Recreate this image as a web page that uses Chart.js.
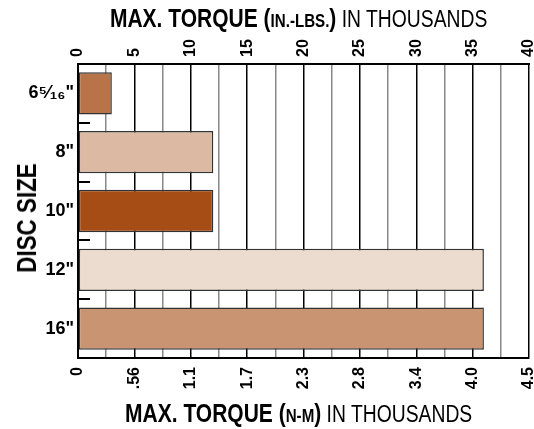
<!DOCTYPE html>
<html>
<head>
<meta charset="utf-8">
<script src="https://cdn.jsdelivr.net/npm/chart.js@4.4.1/dist/chart.umd.min.js"></script>
<style>
    html, body { margin: 0; padding: 0; background: #fff; }
    #wrap { position: relative; width: 534px; height: 429px; }
    #myChart { position: absolute; left: 0; top: 0; }
    .axis-title {
        position: absolute; left: 0; width: 597px; text-align: center;
        font-family: 'Liberation Sans', Arial, sans-serif;
        color: #000; white-space: nowrap; line-height: 1;
    }
    .axis-title .inner { display: inline-block; transform: scaleX(0.84); transform-origin: center; }
    .axis-title b { font-weight: bold; font-size: 25px; }
    .axis-title small { font-weight: bold; font-size: 18px; }
    .axis-title span { font-weight: normal; font-size: 23px; }
    #discTitle {
        position: absolute; left: 27px; top: 218px;
        font-family: 'Liberation Sans', Arial, sans-serif;
        font-weight: bold; font-size: 28px; line-height: 1; white-space: nowrap; color: #000;
        transform: translate(-50%, -50%) rotate(-90deg) scaleX(0.8);
    }
</style>
</head>
<body>
<div id="wrap">
    <canvas id="myChart" width="534" height="429"></canvas>
    <div class="axis-title" style="top:6px;"><div class="inner"><b>MAX. TORQUE (</b><small>IN.-LBS.</small><b>)</b><span> IN THOUSANDS</span></div></div>
    <div class="axis-title" style="top:401px;"><div class="inner"><b>MAX. TORQUE (</b><small>N-M</small><b>)</b><span> IN THOUSANDS</span></div></div>
    <div id="discTitle">DISC SIZE</div>
</div>
<script>
    // 디스크 크기별 최대 토크 (in-lbs, 천 단위)
    const discSizes = ['6⁵⁄₁₆"', '8"', '10"', '12"', '16"'];
    const maxTorque = [3, 12, 12, 36, 36];
    const barColors = ['#b87448', '#dcb9a2', '#a64d16', '#ecdcd0', '#c99472'];

    // 위쪽 눈금(in-lbs)과 아래쪽 눈금(N-m)
    const inLbsTicks = ['0', '5', '10', '15', '20', '25', '30', '35', '40'];
    const nmTicks = ['0', '.56', '1.1', '1.7', '2.3', '2.8', '3.4', '4.0', '4.5'];

    const fontFamily = "'Liberation Sans', Arial, sans-serif";
    const tickSize = 16;

    function tickLabel(list) {
        return function(value) {
            return value % 5 === 0 ? list[value / 5] : '';
        };
    }

    // 왼쪽 축 안쪽의 짧은 눈금
    const innerTicks = {
        id: 'innerTicks',
        afterDatasetsDraw(chart) {
            const y = chart.scales.y;
            const left = chart.chartArea.left;
            const step = (y.bottom - y.top) / discSizes.length;
            const ctx = chart.ctx;
            ctx.save();
            ctx.strokeStyle = '#000';
            ctx.lineWidth = 2;
            for (let i = 0; i < discSizes.length; i++) {
                const py = Math.round(y.getPixelForValue(i) - step / 2);
                ctx.beginPath();
                ctx.moveTo(left, py);
                ctx.lineTo(left + 12, py);
                ctx.stroke();
            }
            ctx.restore();
        }
    };

    const ctx = document.getElementById('myChart').getContext('2d');
    new Chart(ctx, {
        type: 'bar',
        data: {
            labels: discSizes,
            datasets: [{
                data: maxTorque,
                backgroundColor: barColors,
                borderColor: '#333',
                borderWidth: 1.5,
                borderSkipped: false,
                categoryPercentage: 1,
                barPercentage: 0.72
            }]
        },
        plugins: [innerTicks],
        options: {
            indexAxis: 'y',
            responsive: false,
            animation: false,
            layout: { padding: { top: 0, right: 5, bottom: 0, left: 0 } },
            plugins: {
                legend: { display: false },
                title: { display: false },
                tooltip: { enabled: false }
            },
            scales: {
                x: {
                    type: 'linear',
                    position: 'bottom',
                    min: 0,
                    max: 40,
                    afterFit: function(s) { s.height = 71; s.paddingLeft = 0; s.paddingRight = 0; },
                    ticks: {
                        stepSize: 2.5,
                        autoSkip: false,
                        minRotation: 90,
                        maxRotation: 90,
                        padding: 9,
                        color: '#000',
                        font: { family: fontFamily, size: tickSize, weight: 'bold' },
                        callback: tickLabel(nmTicks)
                    },
                    grid: {
                        drawTicks: false,
                        lineWidth: 1.5,
                        color: (c) => (c.tick && c.tick.value % 5 === 0) ? '#000' : '#888'
                    },
                    border: { color: '#000', width: 2 }
                },
                x2: {
                    type: 'linear',
                    axis: 'x',
                    position: 'top',
                    min: 0,
                    max: 40,
                    afterFit: function(s) { s.height = 64; s.paddingLeft = 0; s.paddingRight = 0; },
                    ticks: {
                        stepSize: 2.5,
                        autoSkip: false,
                        minRotation: 90,
                        maxRotation: 90,
                        padding: 7,
                        labelOffset: tickSize * 1.2,
                        color: '#000',
                        font: { family: fontFamily, size: tickSize, weight: 'bold' },
                        callback: tickLabel(inLbsTicks)
                    },
                    grid: { drawOnChartArea: false, drawTicks: false },
                    border: { color: '#000', width: 2 }
                },
                y: {
                    type: 'category',
                    offset: true,
                    afterFit: function(s) { s.width = 78; },
                    ticks: {
                        padding: 4,
                        color: '#000',
                        font: { family: fontFamily, size: 18, weight: 'bold' }
                    },
                    grid: { display: false, drawTicks: false },
                    border: { color: '#000', width: 2 }
                }
            }
        }
    });
</script>
</body>
</html>
